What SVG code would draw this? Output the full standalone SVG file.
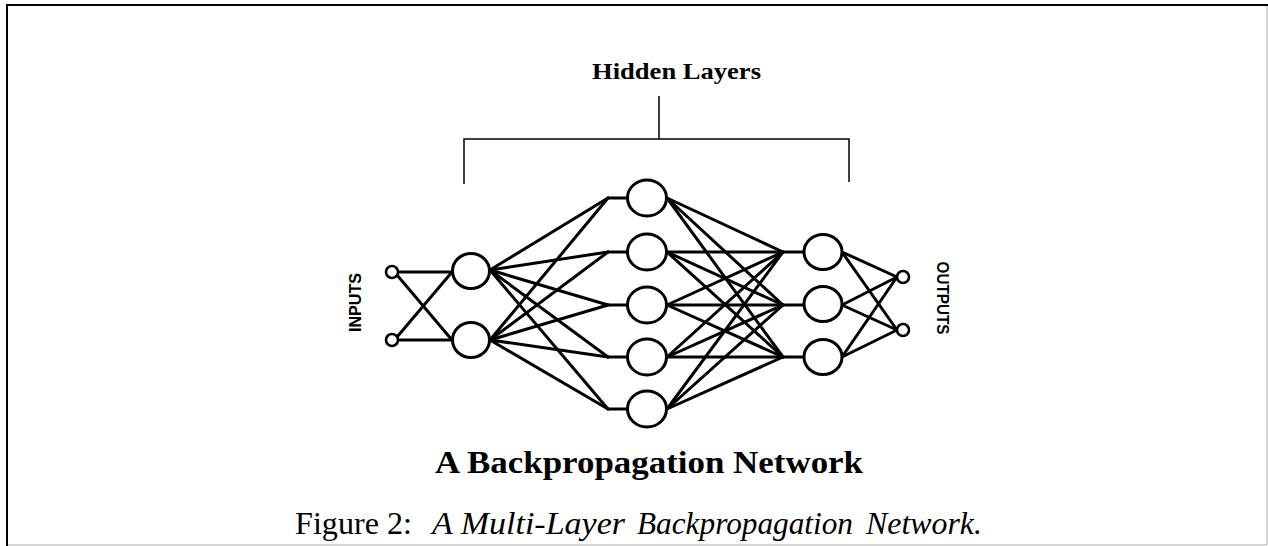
<svg xmlns="http://www.w3.org/2000/svg" width="1268" height="546" viewBox="0 0 1268 546">
  <style>
    .frame { fill: none; stroke: #000; stroke-width: 2; }
    .frame-faint { fill: none; stroke: #c8c8c8; stroke-width: 1.5; }
    .bracket { fill: none; stroke: #000; stroke-width: 1.5; }
    .edge { fill: none; stroke: #000; stroke-width: 3; stroke-linecap: round; }
    .unit { fill: #fff; stroke: #000; stroke-width: 3; }
    .port { fill: #fff; stroke: #000; stroke-width: 2.6; }
    .serif { font-family: "Liberation Serif", "DejaVu Serif", serif; fill: #000; }
    .side { font-family: "Liberation Sans", "DejaVu Sans", sans-serif; font-weight: bold; fill: #000; }
  </style>

  <!-- page frame -->
  <g id="frame">
    <line class="frame" x1="7" y1="5" x2="1268" y2="5"/>
    <line class="frame" x1="7" y1="4" x2="7" y2="546"/>
    <line class="frame-faint" x1="1267" y1="6" x2="1267" y2="545"/>
    <line class="frame-faint" x1="8" y1="545" x2="1267" y2="545"/>
  </g>

  <!-- hidden layer bracket and label -->
  <g id="hidden-label">
    <text class="serif" x="592" y="79" font-size="24" font-weight="bold" textLength="169" lengthAdjust="spacingAndGlyphs">Hidden Layers</text>
    <line class="bracket" x1="659" y1="96" x2="659" y2="139"/>
    <polyline class="bracket" points="464,184 464,139 849,139 849,182"/>
  </g>

  <!-- connectors -->
  <g id="connectors">
    <!-- inputs to first hidden layer -->
    <line class="edge" x1="398" y1="272" x2="452" y2="272"/>
    <line class="edge" x1="397" y1="275" x2="452" y2="340"/>
    <line class="edge" x1="398" y1="340" x2="452" y2="340"/>
    <line class="edge" x1="397" y1="337" x2="452" y2="272"/>

    <!-- first hidden layer to second hidden layer -->
    <line class="edge" x1="490" y1="270" x2="608" y2="198"/>
    <line class="edge" x1="490" y1="270" x2="608" y2="252"/>
    <line class="edge" x1="490" y1="270" x2="608" y2="305"/>
    <line class="edge" x1="490" y1="270" x2="608" y2="357"/>
    <line class="edge" x1="490" y1="270" x2="608" y2="409"/>
    <line class="edge" x1="490" y1="340" x2="608" y2="198"/>
    <line class="edge" x1="490" y1="340" x2="608" y2="252"/>
    <line class="edge" x1="490" y1="340" x2="608" y2="305"/>
    <line class="edge" x1="490" y1="340" x2="608" y2="357"/>
    <line class="edge" x1="490" y1="340" x2="608" y2="409"/>
    <line class="edge" x1="608" y1="198" x2="628" y2="198"/>
    <line class="edge" x1="608" y1="252" x2="628" y2="252"/>
    <line class="edge" x1="608" y1="305" x2="628" y2="305"/>
    <line class="edge" x1="608" y1="357" x2="628" y2="357"/>
    <line class="edge" x1="608" y1="409" x2="628" y2="409"/>

    <!-- second hidden layer to third hidden layer -->
    <line class="edge" x1="667" y1="198" x2="783" y2="252"/>
    <line class="edge" x1="667" y1="198" x2="783" y2="305"/>
    <line class="edge" x1="667" y1="198" x2="783" y2="357"/>
    <line class="edge" x1="667" y1="252" x2="783" y2="252"/>
    <line class="edge" x1="667" y1="252" x2="783" y2="305"/>
    <line class="edge" x1="667" y1="252" x2="783" y2="357"/>
    <line class="edge" x1="667" y1="305" x2="783" y2="252"/>
    <line class="edge" x1="667" y1="305" x2="783" y2="305"/>
    <line class="edge" x1="667" y1="305" x2="783" y2="357"/>
    <line class="edge" x1="667" y1="357" x2="783" y2="252"/>
    <line class="edge" x1="667" y1="357" x2="783" y2="305"/>
    <line class="edge" x1="667" y1="357" x2="783" y2="357"/>
    <line class="edge" x1="667" y1="409" x2="783" y2="252"/>
    <line class="edge" x1="667" y1="409" x2="783" y2="305"/>
    <line class="edge" x1="667" y1="409" x2="783" y2="357"/>
    <line class="edge" x1="783" y1="252" x2="805" y2="252"/>
    <line class="edge" x1="783" y1="305" x2="805" y2="305"/>
    <line class="edge" x1="783" y1="357" x2="805" y2="357"/>

    <!-- third hidden layer to outputs -->
    <line class="edge" x1="842" y1="252" x2="897" y2="277"/>
    <line class="edge" x1="842" y1="252" x2="897" y2="330"/>
    <line class="edge" x1="842" y1="305" x2="897" y2="277"/>
    <line class="edge" x1="842" y1="305" x2="897" y2="330"/>
    <line class="edge" x1="842" y1="357" x2="897" y2="277"/>
    <line class="edge" x1="842" y1="357" x2="897" y2="330"/>
  </g>

  <!-- input ports -->
  <g id="input-1"><circle class="port" cx="392" cy="272" r="6"/></g>
  <g id="input-2"><circle class="port" cx="392" cy="340" r="6"/></g>

  <!-- first hidden layer -->
  <g id="h1-1"><ellipse class="unit" cx="471" cy="271" rx="18.5" ry="17.5"/></g>
  <g id="h1-2"><ellipse class="unit" cx="471" cy="340" rx="18.5" ry="17.5"/></g>

  <!-- second hidden layer -->
  <g id="h2-1"><ellipse class="unit" cx="647" cy="198" rx="19.5" ry="18"/></g>
  <g id="h2-2"><ellipse class="unit" cx="647" cy="252" rx="19.5" ry="18"/></g>
  <g id="h2-3"><ellipse class="unit" cx="647" cy="305" rx="19.5" ry="18"/></g>
  <g id="h2-4"><ellipse class="unit" cx="647" cy="357" rx="19.5" ry="18"/></g>
  <g id="h2-5"><ellipse class="unit" cx="647" cy="409" rx="19.5" ry="18"/></g>

  <!-- third hidden layer -->
  <g id="h3-1"><ellipse class="unit" cx="823" cy="252" rx="19" ry="17.5"/></g>
  <g id="h3-2"><ellipse class="unit" cx="823" cy="304" rx="19" ry="17.5"/></g>
  <g id="h3-3"><ellipse class="unit" cx="823" cy="357" rx="19" ry="17.5"/></g>

  <!-- output ports -->
  <g id="output-1"><circle class="port" cx="903" cy="277" r="6"/></g>
  <g id="output-2"><circle class="port" cx="903" cy="330" r="6"/></g>

  <!-- side labels -->
  <g id="inputs-label">
    <text class="side" transform="translate(355,302.5) rotate(-90)" x="0" y="6" font-size="16" text-anchor="middle" textLength="59" lengthAdjust="spacingAndGlyphs">INPUTS</text>
  </g>
  <g id="outputs-label">
    <text class="side" transform="translate(943,298) rotate(90)" x="0" y="6" font-size="16" text-anchor="middle" textLength="73" lengthAdjust="spacingAndGlyphs">OUTPUTS</text>
  </g>

  <!-- titles -->
  <g id="title">
    <text class="serif" x="435" y="473" font-size="32" font-weight="bold" textLength="428" lengthAdjust="spacingAndGlyphs">A Backpropagation Network</text>
  </g>
  <g id="caption" class="serif" font-size="31">
    <text x="295" y="534" textLength="117" lengthAdjust="spacingAndGlyphs">Figure 2:</text>
    <text x="432" y="534" font-style="italic" textLength="193" lengthAdjust="spacingAndGlyphs">A Multi-Layer</text>
    <text x="637" y="534" font-style="italic" textLength="216" lengthAdjust="spacingAndGlyphs">Backpropagation</text>
    <text x="866" y="534" font-style="italic" textLength="116" lengthAdjust="spacingAndGlyphs">Network.</text>
  </g>
</svg>
